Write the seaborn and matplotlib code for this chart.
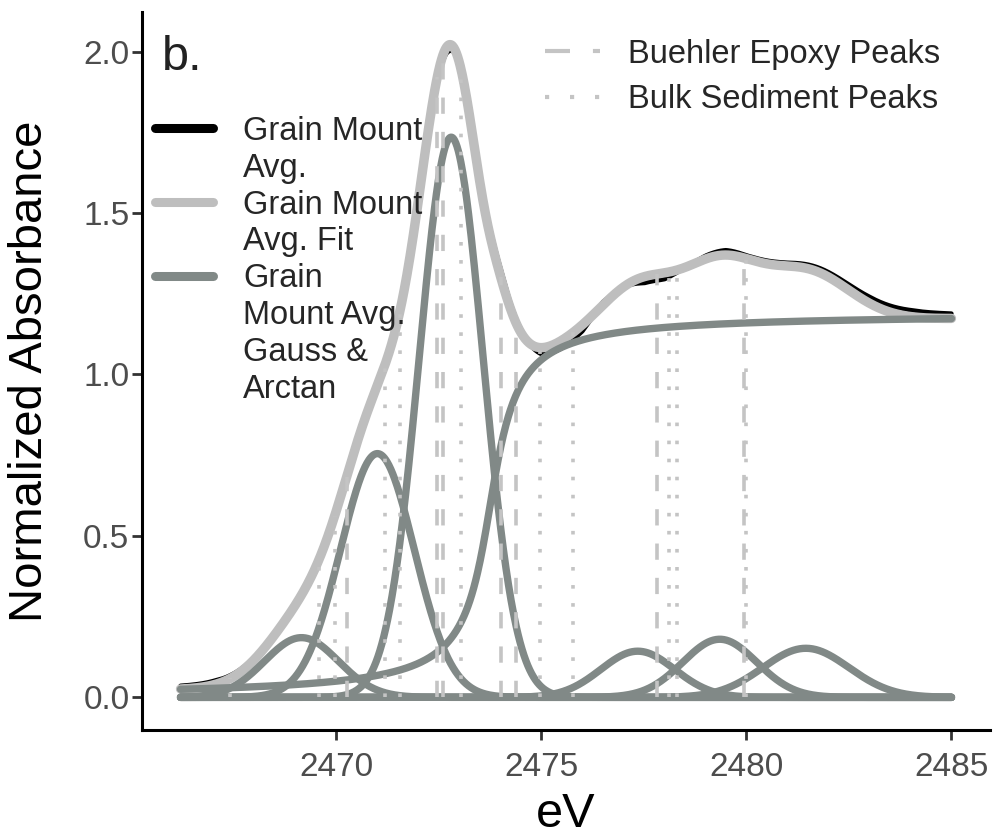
import numpy as np
import pandas as pd
import matplotlib
matplotlib.use("Agg")
import matplotlib.pyplot as plt
import seaborn as sns
from matplotlib.lines import Line2D

# ---------------- data ----------------
# Gaussian components of the fit: centre (eV), height, sigma (eV)
gauss_center = [2469.15, 2471.0, 2472.8, 2477.35, 2479.35, 2481.45]
gauss_height = [0.185, 0.755, 1.735, 0.143, 0.18, 0.152]
gauss_sigma = [0.9, 0.9, 0.78, 0.9, 0.9, 1.05]
# Arctan step component: step height, centre (eV), width (eV)
arctan_height = 1.19
arctan_center = 2473.75
arctan_width = 0.5

# measured spectrum: deviation of the Grain Mount Avg. from its fit
resid_energy = [2466.2, 2467.0, 2468.0, 2469.0, 2470.0, 2471.0, 2472.0, 2472.75,
                2473.5, 2474.0, 2474.5, 2475.0, 2475.5, 2476.0, 2476.5, 2477.0,
                2477.5, 2478.0, 2478.5, 2479.0, 2479.5, 2480.0, 2481.0, 2482.0,
                2483.0, 2484.0, 2485.0]
resid_value = [0.01, 0.012, 0.006, -0.005, -0.01, -0.01, -0.01, -0.02,
               0.02, 0.025, 0.01, -0.02, -0.025, -0.02, 0.01, 0.0,
               -0.02, -0.02, 0.0, 0.01, 0.015, 0.01, 0.01, 0.015,
               0.02, 0.02, 0.015]

energy_min, energy_max = 2466.2, 2485.0

# reference peak positions (eV)
epoxy_peaks = [2470.25, 2472.46, 2472.61, 2474.01, 2474.37, 2477.81, 2479.93]
sediment_peaks = [2467.41, 2469.58, 2469.96, 2471.19, 2471.54, 2473.05,
                  2474.97, 2475.78, 2478.11, 2478.30, 2479.99]

x_ticks = [2470, 2475, 2480, 2485]
y_ticks = [0.0, 0.5, 1.0, 1.5, 2.0]

# ---------------- model ----------------
def gauss(e, c, h, s):
    return h * np.exp(-(e - c) ** 2 / (2 * s ** 2))

def step(e):
    return arctan_height * (0.5 + np.arctan((e - arctan_center) / arctan_width) / np.pi)

def fit_total(e):
    e = np.asarray(e, dtype=float)
    tot = step(e)
    for c, h, s in zip(gauss_center, gauss_height, gauss_sigma):
        tot = tot + gauss(e, c, h, s)
    return tot

energy = np.linspace(energy_min, energy_max, 1200)
fit = fit_total(energy)
measured = fit + np.interp(energy, resid_energy, resid_value)

# ---------------- style ----------------
sns.set_theme(style="white")
plt.rcParams["font.family"] = ["Liberation Sans", "DejaVu Sans"]

BLACK = "#000000"
FIT = "#bebebe"
COMP = "#818987"
VLINE = "#c4c4c4"

fig = plt.figure(figsize=(10, 8.36), dpi=100)
ax_top_px, ax_bot_px, ax_left_px, ax_right_px = 12, 730, 142, 990
ax = fig.add_axes([ax_left_px / 1000, 1 - ax_bot_px / 836,
                   (ax_right_px - ax_left_px) / 1000, (ax_bot_px - ax_top_px) / 836])

sns.lineplot(x=energy, y=measured, ax=ax, color=BLACK, lw=3.2, zorder=2)
sns.lineplot(x=energy, y=fit, ax=ax, color=FIT, lw=6.8, zorder=3)

comp_df = []
for i, (c, h, s) in enumerate(zip(gauss_center, gauss_height, gauss_sigma)):
    comp_df.append(pd.DataFrame({"eV": energy, "y": gauss(energy, c, h, s), "comp": f"g{i}"}))
comp_df.append(pd.DataFrame({"eV": energy, "y": step(energy), "comp": "arctan"}))
comp_df = pd.concat(comp_df, ignore_index=True)
sns.lineplot(data=comp_df, x="eV", y="y", units="comp", estimator=None,
             ax=ax, color=COMP, lw=5.3, zorder=4)

vlw = 2.6
ax.vlines(epoxy_peaks, 0, fit_total(epoxy_peaks), colors=VLINE, lw=vlw,
          linestyles=(0, (4.5, 5.0)), zorder=5)
ax.vlines(sediment_peaks, 0, fit_total(sediment_peaks), colors=VLINE, lw=vlw,
          linestyles=(0, (1.0, 4.0)), zorder=5)

# axes limits (ggplot style 5% expansion)
xr = energy_max - energy_min
ax.set_xlim(energy_min - 0.05 * xr, energy_max + 0.05 * xr)
ymax = fit.max()
ax.set_ylim(-0.05 * ymax, ymax * 1.05)
ax.set_xticks(x_ticks)
ax.set_yticks(y_ticks)
ax.set_yticklabels([f"{v:.1f}" for v in y_ticks])

for side in ["top", "right"]:
    ax.spines[side].set_visible(False)
for side in ["left", "bottom"]:
    ax.spines[side].set_color("black")
    ax.spines[side].set_linewidth(2.2)
ax.tick_params(axis="both", which="major", direction="out", length=7,
               width=2.0, color="#333333", labelsize=24, labelcolor="#4d4d4d",
               bottom=True, left=True)
ax.tick_params(axis="x", pad=9)
ax.tick_params(axis="y", pad=2)

ax.set_xlabel("eV", fontsize=35, color="black")
ax.xaxis.set_label_coords(0.5, -0.087)
ax.set_ylabel("Normalized Absorbance", fontsize=34, color="black")
ax.yaxis.set_label_coords(-0.106, 0.5)

ax.text(0.023, 0.968, "b.", transform=ax.transAxes, fontsize=35,
        va="top", ha="left", color="#222222")

# legend 1 (lines)
klw = 6.5
h1 = [Line2D([], [], color=BLACK, lw=klw),
      Line2D([], [], color="none"),
      Line2D([], [], color=FIT, lw=klw),
      Line2D([], [], color="none"),
      Line2D([], [], color=COMP, lw=klw),
      Line2D([], [], color="none"),
      Line2D([], [], color="none"),
      Line2D([], [], color="none")]
l1 = ["Grain Mount", "Avg.", "Grain Mount", "Avg. Fit", "Grain",
      "Mount Avg.", "Gauss &", "Arctan"]
leg1 = ax.legend(h1, l1, loc="upper left", bbox_to_anchor=(0.0153, 0.8555),
                 frameon=False, fontsize=23.5, handlelength=1.78,
                 handletextpad=0.92, labelspacing=0.18, borderpad=0,
                 borderaxespad=0)
ax.add_artist(leg1)

h2 = [Line2D([], [], color=VLINE, lw=vlw + 0.4, linestyle=(0, (6.0, 5.5))),
      Line2D([], [], color=VLINE, lw=vlw + 0.4, linestyle=(0, (1.0, 5.0)))]
l2 = ["Buehler Epoxy Peaks", "Bulk Sediment Peaks"]
ax.legend(h2, l2, loc="upper left", bbox_to_anchor=(0.475, 0.963),
          frameon=False, fontsize=23.5, handlelength=1.7, handletextpad=0.86,
          labelspacing=0.44, borderpad=0, borderaxespad=0)

fig.savefig("out.png", dpi=100)
